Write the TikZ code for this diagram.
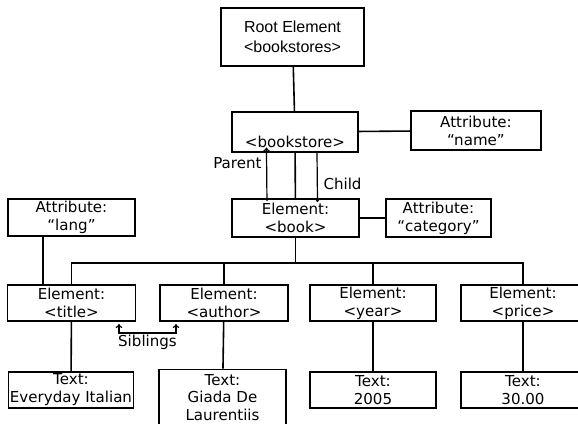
\documentclass[tikz,border=0pt]{standalone}
\usepackage{fontspec}
\setmainfont{DejaVu Sans}
\newfontfamily\rootfont{Liberation Sans}
\usetikzlibrary{arrows.meta}

\tikzset{every picture/.style={line width=0.75pt}}
\tikzset{
  box/.style={draw, line width=1.2pt, align=center, inner sep=0pt, font=\fontsize{11.3}{13.5}\selectfont},
  link/.style={line width=1.2pt},
  arr/.style={line width=0.9pt, -{To[length=3pt,width=5pt]}},
  lbl/.style={inner sep=0.75pt, font=\fontsize{11.3}{13.5}\selectfont}
}

\begin{document}
\begin{tikzpicture}[x=0.75pt,y=0.75pt,yscale=-1,xscale=1]
\useasboundingbox (0,0) rectangle (578,424);

%Root and bookstore
\node [box, minimum width=107.25pt, minimum height=43.5pt, font=\rootfont\fontsize{12}{15}\selectfont] (root) at (292.5,37) {Root Element\\<bookstores>};
\node [box, minimum width=94.5pt, minimum height=30pt] (bookstore) at (295,132) {\strut\\<bookstore>};
\node [box, minimum width=97.5pt, minimum height=29.25pt] (name) at (476,130.5) {Attribute:\\“name”};
%Book level
\node [box, minimum width=95.25pt, minimum height=28.5pt] (book) at (295.5,218) {Element:\\<book>};
\node [box, minimum width=78.75pt, minimum height=28.5pt] (category) at (438.5,218) {Attribute:\\“category”};
\node [box, minimum width=95.25pt, minimum height=27.75pt] (lang) at (71.5,217.5) {Attribute:\\“lang”};
%Children of book
\node [box, minimum width=96pt, minimum height=27pt] (title) at (71.5,303) {Element:\\<title>};
\node [box, minimum width=96pt, minimum height=27pt] (author) at (224,303) {Element:\\<author>};
\node [box, minimum width=94.5pt, minimum height=27pt] (year) at (373,303) {Element:\\<year>};
\node [box, minimum width=93pt, minimum height=27pt] (price) at (523,303) {Element:\\<price>};
%Text nodes
\node [box, minimum width=93.75pt, minimum height=27pt] (titletext) at (71,390) {Text:\\Everyday Italian};
\node [box, minimum width=95.25pt, minimum height=42pt, font=\fontsize{11.3}{13}\selectfont] (authortext) at (222.5,397.5) {Text:\\Giada De\\Laurentiis};
\node [box, minimum width=94.5pt, minimum height=27pt] (yeartext) at (373,390) {Text:\\2005};
\node [box, minimum width=93pt, minimum height=27pt] (pricetext) at (523,390) {Text:\\30.00};

%Straight Lines
\coordinate (bus) at (0,263);
\draw [link] (root) -- (bookstore);
\draw [link] (bookstore) -- (name);
\draw [link] (bookstore) -- (book);
\draw [link] (book) -- (category);
\draw [link] (book.south) -- (book.south |- bus);
\draw [link] (title.north) |- (price.north |- bus) -- (price.north);
\draw [link] (author.north) -- (author.north |- bus);
\draw [link] (year.north) -- (year.north |- bus);
\draw [link] ([xshift=-21.4pt]lang.south) -- ([xshift=-21.4pt]lang.south |- title.north);
\draw [link] (title) -- (titletext);
\draw [link] (author) -- (authortext);
\draw [link] (year) -- (yeartext);
\draw [link] (price) -- (pricetext);

%Arrows
\draw [arr] ([xshift=-21.4pt,yshift=2pt]book.north) -- ([xshift=-21.4pt,yshift=-4pt]bookstore.south);
\draw [arr] ([xshift=16.5pt]bookstore.south) -- ([xshift=16.5pt,yshift=3pt]book.north);
\coordinate (sibL) at (119,324);
\coordinate (sibR) at (176,324);
\draw [arr, {To[length=3pt,width=5pt]}-{To[length=3pt,width=5pt]}] (sibL) -- ++(0,9) -| (sibR);

% Text Node
\node [lbl, anchor=east] (parent) at (263,163) {Parent};
% Text Node
\node [lbl, anchor=west] (child) at (322,184) {Child};
% Text Node
\node [lbl, anchor=north] (siblings) at (147.5,334) {Siblings};

\end{tikzpicture}
\end{document}
